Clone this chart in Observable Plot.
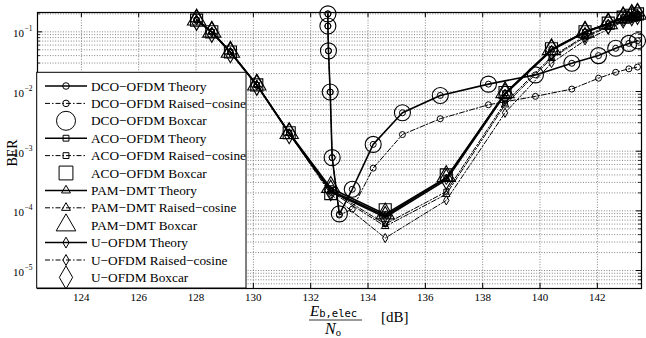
<!DOCTYPE html>
<html><head><meta charset="utf-8">
<script src="https://cdn.jsdelivr.net/npm/d3@7"></script>
<script src="https://cdn.jsdelivr.net/npm/@observablehq/plot@0.6"></script>
<style>
body{margin:0;background:#fff;}
#chart{width:646px;height:338px;}
svg text{font-family:"Liberation Serif","Times New Roman",serif;}
</style>
</head><body><div id="chart"></div>
<script>
// ---- tick labels ----
const xTicks = [124, 126, 128, 130, 132, 134, 136, 138, 140, 142];
const yDecades = [1e-5, 1e-4, 1e-3, 1e-2, 1e-1];
const yExponents = ["\u22125", "\u22124", "\u22123", "\u22122", "\u22121"];
const yMinorMult = [1, 2, 3, 4, 5, 6, 7, 8, 9];

// ---- data: ACO-OFDM / PAM-DMT / U-OFDM share the same Eb/No points ----
const xCommon = [128.02, 128.55, 129.2, 130.12, 131.25, 132.7, 134.6, 136.73, 138.78, 140.4, 141.57, 142.38, 142.9, 143.2, 143.4];
const acoTheory = [0.157, 0.1, 0.046, 0.0129, 0.00204, 2.4e-4, 8.8e-5, 3.6e-4, 0.0094, 0.051, 0.1, 0.138, 0.175, 0.19, 0.2];
const acoRaised = [0.157, 0.1, 0.046, 0.0129, 0.00204, 2.2e-4, 6.0e-5, 2.1e-4, 0.0065, 0.038, 0.085, 0.125, 0.16, 0.18, 0.19];
const acoBoxcar = [0.157, 0.1, 0.046, 0.0129, 0.00204, 1.95e-4, 1.04e-4, 4.0e-4, 0.0096, 0.052, 0.1, 0.14, 0.176, 0.19, 0.2];
const pamTheory = [0.16, 0.1, 0.046, 0.013, 0.002, 2.2e-4, 8.3e-5, 3.5e-4, 0.0092, 0.05, 0.1, 0.137, 0.172, 0.188, 0.198];
const pamRaised = [0.16, 0.1, 0.046, 0.013, 0.002, 2.1e-4, 5.5e-5, 1.9e-4, 0.006, 0.036, 0.082, 0.12, 0.155, 0.175, 0.185];
const pamBoxcar = [0.16, 0.1, 0.046, 0.013, 0.002, 2.5e-4, 9.0e-5, 3.8e-4, 0.0097, 0.051, 0.1, 0.138, 0.174, 0.19, 0.2];
const uTheory = [0.157, 0.099, 0.045, 0.0128, 0.00198, 2.1e-4, 7.8e-5, 3.3e-4, 0.009, 0.049, 0.098, 0.135, 0.17, 0.186, 0.196];
const uRaised = [0.157, 0.099, 0.045, 0.0128, 0.00198, 1.9e-4, 3.5e-5, 1.5e-4, 0.0044, 0.03, 0.072, 0.11, 0.15, 0.17, 0.18];
const uBoxcar = [0.157, 0.099, 0.045, 0.0128, 0.00198, 2.2e-4, 8.0e-5, 3.4e-4, 0.0092, 0.05, 0.099, 0.136, 0.172, 0.188, 0.197];

// ---- data: DCO-OFDM ----
const xDco = [132.6, 132.6, 132.62, 132.68, 132.75, 133.0, 133.45, 134.18, 135.2, 136.52, 138.2, 139.84, 141.11, 142.04, 142.64, 143.1, 143.4];
const dcoTheory = [0.2, 0.125, 0.048, 0.0098, 7.8e-4, 8.8e-5, 2.3e-4, 1.3e-3, 0.0044, 0.0086, 0.0133, 0.019, 0.0297, 0.04, 0.053, 0.064, 0.071];
const dcoRaised = [0.2, 0.125, 0.048, 0.0098, 7.8e-4, 8.5e-5, 1.07e-4, 5.2e-4, 0.0019, 0.0035, 0.006, 0.0083, 0.011, 0.0167, 0.021, 0.024, 0.0257];
const dcoBoxcar = [0.2, 0.125, 0.048, 0.0098, 7.8e-4, 8.9e-5, 2.3e-4, 1.3e-3, 0.0044, 0.0086, 0.0133, 0.019, 0.0297, 0.04, 0.053, 0.064, 0.071];

const legendLabels = [
  "DCO\u2212OFDM Theory", "DCO\u2212OFDM Raised\u2212cosine", "DCO\u2212OFDM Boxcar",
  "ACO\u2212OFDM Theory", "ACO\u2212OFDM Raised\u2212cosine", "ACO\u2212OFDM Boxcar",
  "PAM\u2212DMT Theory", "PAM\u2212DMT Raised\u2212cosine", "PAM\u2212DMT Boxcar",
  "U\u2212OFDM Theory", "U\u2212OFDM Raised\u2212cosine", "U\u2212OFDM Boxcar"
];

// ---- build series ----
const modulations = [
  {name: "DCO", sym: "circle", x: xDco, th: dcoTheory, rc: dcoRaised, bx: dcoBoxcar, rBig: 8, rSmall: 3},
  {name: "ACO", sym: "square", x: xCommon, th: acoTheory, rc: acoRaised, bx: acoBoxcar, rBig: 6.8, rSmall: 2.8},
  {name: "PAM", sym: "triangle", x: xCommon, th: pamTheory, rc: pamRaised, bx: pamBoxcar, rBig: 6.8, rSmall: 2.8},
  {name: "U", sym: "diamond", x: xCommon, th: uTheory, rc: uRaised, bx: uBoxcar, rBig: 6.2, rSmall: 2.8}
];
const rows = (m, ys, kind) => m.x.map((x, i) => ({x, y: ys[i], series: m.name + kind}));

const xDomain = [122.47, 143.54];
const yDomain = [5e-6, 0.211];
const yGridVals = yDecades.concat([1e-6]).flatMap(d => yMinorMult.map(k => k * d)).filter(v => v >= yDomain[0] && v <= yDomain[1]);
const yMinorVals = yGridVals.filter(v => !yDecades.includes(v));

const serif = "Liberation Serif, Times New Roman, serif";
const dashDot = "5,2,1.5,2";
const marks = [];
// grid
marks.push(Plot.ruleX(xTicks, {x: d => d, stroke: "#666", strokeWidth: 0.8, strokeDasharray: "1,1.6"}));
marks.push(Plot.ruleY(yGridVals, {y: d => d, stroke: "#666", strokeWidth: 0.8, strokeDasharray: "1,1.6"}));
// inward ticks
const tx = 5 / 28.67, ty = Math.pow(10, 5 / 59.6), tyMinor = 3 / 28.67;
marks.push(Plot.ruleX(xTicks, {x: d => d, y1: yDomain[0], y2: yDomain[0] * ty, stroke: "black"}));
marks.push(Plot.ruleX(xTicks, {x: d => d, y1: yDomain[1], y2: yDomain[1] / ty, stroke: "black"}));
marks.push(Plot.ruleY(yDecades, {y: d => d, x1: xDomain[0], x2: xDomain[0] + tx, stroke: "black"}));
marks.push(Plot.ruleY(yDecades, {y: d => d, x1: xDomain[1], x2: xDomain[1] - tx, stroke: "black"}));
marks.push(Plot.ruleY(yMinorVals, {y: d => d, x1: xDomain[0], x2: xDomain[0] + tyMinor, stroke: "black", strokeWidth: 0.8}));
marks.push(Plot.ruleY(yMinorVals, {y: d => d, x1: xDomain[1], x2: xDomain[1] - tyMinor, stroke: "black", strokeWidth: 0.8}));

// lines and markers
for (const m of modulations) {
  const th = rows(m, m.th, "th"), rc = rows(m, m.rc, "rc"), bx = rows(m, m.bx, "bx");
  marks.push(Plot.line(th, {x: "x", y: "y", stroke: "black", strokeWidth: 1.6}));
  marks.push(Plot.line(rc, {x: "x", y: "y", stroke: "black", strokeWidth: 1, strokeDasharray: dashDot}));
  marks.push(Plot.dot(th, {x: "x", y: "y", symbol: m.sym, r: m.rSmall, stroke: "black", fill: "none", strokeWidth: 1}));
  marks.push(Plot.dot(rc, {x: "x", y: "y", symbol: m.sym, r: m.rSmall, stroke: "black", fill: "none", strokeWidth: 1}));
  marks.push(Plot.dot(bx, {x: "x", y: "y", symbol: m.sym, r: m.rBig, stroke: "black", fill: "none", strokeWidth: 1.1}));
}
marks.push(Plot.frame({stroke: "black", strokeWidth: 1.2}));
// y tick labels 10^n
marks.push(Plot.text(yDecades, {y: d => d, frameAnchor: "left", dx: -13.5, dy: 2, textAnchor: "end", text: () => "10", fontSize: 11, fontFamily: serif, fill: "black"}));
marks.push(Plot.text(yDecades, {y: d => d, frameAnchor: "left", dx: -13, dy: -3, textAnchor: "start", text: (d, i) => yExponents[i], fontSize: 7.5, fontFamily: serif, fill: "black"}));
// x axis labels
marks.push(Plot.axisX(xTicks, {tickSize: 0, tickPadding: 4.5, fontSize: 11, fontFamily: serif, label: null}));

const svg = Plot.plot({
  width: 646, height: 338,
  marginLeft: 37, marginRight: 5, marginTop: 12, marginBottom: 50,
  style: {fontFamily: serif, fontSize: "11px", color: "black", background: "white"},
  x: {domain: xDomain, axis: null},
  y: {type: "log", domain: yDomain, axis: null},
  marks
});
document.getElementById("chart").appendChild(svg);

// ---- axis titles and legend ----
const s = d3.select(svg);
// BER
s.append("text").attr("transform", "translate(16.5,153) rotate(-90)")
  .attr("text-anchor", "middle").attr("font-size", 14).attr("font-family", serif).attr("fill", "black").text("BER");
// x label fraction
const xl = s.append("g").attr("fill", "black").attr("text-anchor", "start");
const num = xl.append("text").attr("x", 310).attr("y", 315.5).attr("text-anchor", "start").attr("font-family", serif);
num.append("tspan").attr("font-style", "italic").attr("font-size", 15).text("E");
num.append("tspan").attr("font-family", "DejaVu Sans Mono, monospace").attr("font-size", 10.5).attr("dy", 1.5).text("b,elec");
xl.append("line").attr("x1", 309).attr("x2", 362).attr("y1", 320).attr("y2", 320).attr("stroke", "black").attr("stroke-width", 0.8);
const den = xl.append("text").attr("x", 325).attr("y", 334).attr("text-anchor", "start").attr("font-family", serif);
den.append("tspan").attr("font-style", "italic").attr("font-size", 16).text("N");
den.append("tspan").attr("font-size", 10.5).attr("dy", 2).text("o");
xl.append("text").attr("x", 381).attr("y", 321.5).attr("text-anchor", "start").attr("font-family", serif).attr("font-size", 15).text("[dB]");

// legend
const lg = s.append("g").attr("text-anchor", "start");
lg.append("rect").attr("x", 36.7).attr("y", 72.3).attr("width", 209.3).attr("height", 215.7)
  .attr("fill", "white").attr("stroke", "black").attr("stroke-width", 1);
const symMap = {circle: d3.symbolCircle, square: d3.symbolSquare, triangle: d3.symbolTriangle, diamond: d3.symbolDiamond};
const bigLegendR = {circle: 9.5, square: 7.8, triangle: 7.3, diamond: 7};
legendLabels.forEach((lab, i) => {
  const y = 86 + i * 17.4;
  const m = modulations[Math.floor(i / 3)];
  const kind = i % 3;
  if (kind < 2) {
    lg.append("line").attr("x1", 45).attr("x2", 87).attr("y1", y).attr("y2", y)
      .attr("stroke", "black").attr("stroke-width", kind === 0 ? 1.5 : 1)
      .attr("stroke-dasharray", kind === 0 ? null : dashDot);
  }
  const r = kind < 2 ? 3.3 : bigLegendR[m.sym];
  lg.append("path").attr("d", d3.symbol(symMap[m.sym], Math.PI * r * r)())
    .attr("transform", `translate(66,${y})`).attr("fill", "none")
    .attr("stroke", "black").attr("stroke-width", 1);
  lg.append("text").attr("x", 91).attr("y", y).attr("dy", "0.35em").attr("text-anchor", "start").attr("font-size", 13.3)
    .attr("font-family", serif).attr("fill", "black").text(lab);
});
</script>
</body></html>
